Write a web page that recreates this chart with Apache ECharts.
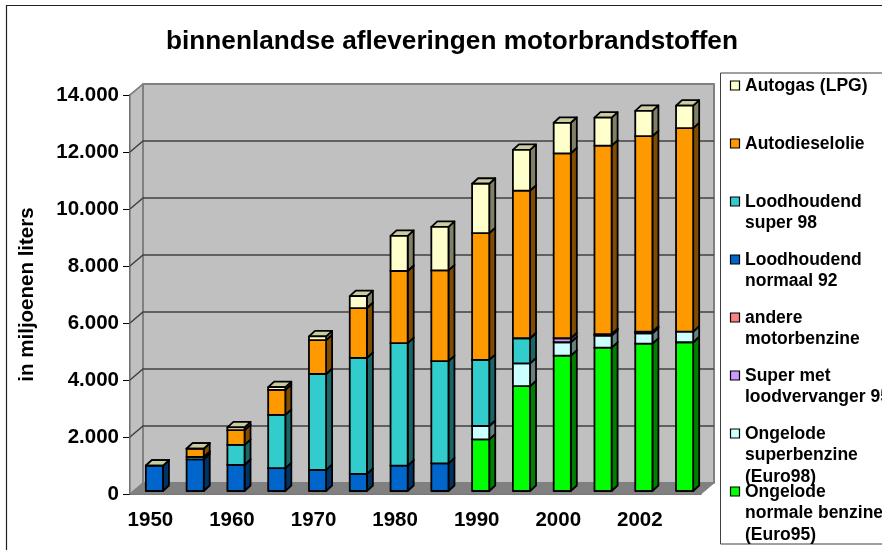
<!DOCTYPE html>
<html>
<head>
<meta charset="utf-8">
<script src="https://cdn.jsdelivr.net/npm/echarts@6/dist/echarts.min.js"></script>
<style>
  html, body { margin: 0; padding: 0; background: #fff; }
  #chart { width: 882px; height: 550px; }
</style>
</head>
<body>
<div id="chart"></div>
<script>
const years = ['1950','1955','1960','1965','1970','1975','1980','1985','1990','1995','2000','2001','2002','2003'];

// series values in miljoenen liters, bottom of the stack first
const euro95 = [0,0,0,0,0,0,0,0,1810,3680,4750,5030,5170,5220];
const euro98 = [0,0,0,0,0,0,0,0,470,800,470,420,365,370];
const superLood = [0,0,0,0,0,0,0,0,0,0,140,50,55,0];
const andere = [0,0,0,0,0,0,0,0,0,0,0,0,0,0];
const lood92 = [890,1110,920,800,740,600,890,970,0,0,0,0,0,0];
const lood98 = [0,90,700,1870,3365,4070,4300,3590,2320,880,0,0,0,0];
const diesel = [0,285,515,880,1190,1750,2530,3180,4450,5180,6490,6620,6860,7140];
const lpg = [0,0,95,95,130,420,1230,1530,1730,1430,1070,980,890,790];

const seriesNames = [
  'Ongelode\nnormale benzine\n(Euro95)',
  'Ongelode\nsuperbenzine\n(Euro98)',
  'Super met\nloodvervanger 95',
  'andere\nmotorbenzine',
  'Loodhoudend\nnormaal 92',
  'Loodhoudend\nsuper 98',
  'Autodieselolie',
  'Autogas (LPG)'
];
const seriesValues = [euro95, euro98, superLood, andere, lood92, lood98, diesel, lpg];
const colors = ['#00ff00','#ccffff','#cc99ff','#ff8080','#0066cc','#33cccc','#ff9900','#ffffcc'];
const sideColors = ['#008000','#668080','#664d80','#804040','#003366','#1a6666','#804d00','#808066'];
const topColors = ['#66ff66','#e0ffff','#e0c2ff','#ffb3b3','#669ee0','#85e0e0','#ffc266','#cccca3'];

const yTicks = [0,2000,4000,6000,8000,10000,12000,14000];

const wallDx = 13, wallDy = -11;   // depth of the 3d box
const barDx = 4, barDy = -3;       // bars stand halfway the floor
const depthX = 6, depthY = -5.5;   // depth of a bar

function poly(points, fill, stroke, lineWidth) {
  return { type: 'polygon', shape: { points: points }, style: { fill: fill, stroke: stroke, lineWidth: lineWidth, lineJoin: 'round' } };
}

// side wall, back wall, floor and gridlines
function renderWalls(params, api) {
  const left = api.coord([0, 0])[0] - api.size([1, 0])[0] / 2;
  const right = left + api.size([1, 0])[0] * years.length;
  const y0 = api.coord([0, 0])[1];
  const yMax = api.coord([0, 14000])[1];
  const kids = [
    poly([[left, y0], [left + wallDx, y0 + wallDy], [left + wallDx, yMax + wallDy], [left, yMax]], '#c0c0c0', '#808080', 1.5),
    poly([[left + wallDx, y0 + wallDy], [right + wallDx, y0 + wallDy], [right + wallDx, yMax + wallDy], [left + wallDx, yMax + wallDy]], '#c0c0c0', '#808080', 2),
    poly([[left, y0], [left + wallDx, y0 + wallDy], [right + wallDx, y0 + wallDy], [right, y0]], '#808080', '#808080', 1)
  ];
  yTicks.slice(1, -1).forEach(function (t) {
    const y = api.coord([0, t])[1];
    kids.push({ type: 'polyline', shape: { points: [[left, y], [left + wallDx, y + wallDy], [right + wallDx, y + wallDy]] }, style: { fill: null, stroke: '#404040', lineWidth: 1.5 } });
  });
  kids.push({ type: 'line', shape: { x1: left, y1: yMax, x2: left + wallDx, y2: yMax + wallDy }, style: { stroke: '#808080', lineWidth: 1.5 } });
  return { type: 'group', children: kids };
}

// one stacked segment: api.value(1) is the bottom, api.value(2) the top
function renderSegment(params, api) {
  const low = api.value(1), high = api.value(2);
  const idx = params.seriesIndex - 1;
  const isTop = idx === seriesValues.length - 1;
  // the top series still closes the bar with its cap when it is empty
  if (high <= low && !isTop) return null;
  const w = api.size([1, 0])[0] * 0.42;
  const c = api.coord([api.value(0), low]);
  const t = api.coord([api.value(0), high]);
  const x1 = c[0] - w / 2 + barDx, x2 = x1 + w;
  const yb = c[1] + barDy, yt = t[1] + barDy;
  return {
    type: 'group',
    children: [
      poly([[x2, yb], [x2 + depthX, yb + depthY], [x2 + depthX, yt + depthY], [x2, yt]], sideColors[idx], '#000', 1.8),
      poly([[x1, yt], [x1 + depthX, yt + depthY], [x2 + depthX, yt + depthY], [x2, yt]], topColors[idx], '#000', 1.8),
      poly([[x1, yb], [x2, yb], [x2, yt], [x1, yt]], colors[idx], '#000', 1.8)
    ]
  };
}

const running = years.map(function () { return 0; });
const barSeries = seriesValues.map(function (values, s) {
  const data = values.map(function (v, i) {
    const low = running[i];
    running[i] = low + v;
    return [i, low, running[i]];
  });
  return {
    type: 'custom',
    name: seriesNames[s].replace(/\n/g, ' '),
    renderItem: renderSegment,
    encode: { x: 0, y: [1, 2] },
    clip: false,
    z: 3,
    data: data
  };
});

// legend box, top entry is the last series; text runs off the box as in the original
const legendX = 720.5, legendTop = 73, legendBottom = 544, legendStep = 58;
const legendFont = 'bold 17.5px "Liberation Sans", Arial, sans-serif';
const legendGraphics = [{
  type: 'rect',
  shape: { x: 6.5, y: 5.5, width: 900, height: 600 },
  style: { fill: null, stroke: '#202020', lineWidth: 1.2 },
  z: 0
}, {
  type: 'rect',
  shape: { x: legendX, y: legendTop, width: 170, height: legendBottom - legendTop },
  style: { fill: '#fff', stroke: '#404040', lineWidth: 1 },
  z: 1
}];
seriesNames.slice().reverse().forEach(function (name, i) {
  const s = seriesNames.length - 1 - i;
  const y = 78 + i * legendStep;
  legendGraphics.push({
    type: 'rect',
    shape: { x: 730.5, y: y + 3, width: 9, height: 9 },
    style: { fill: colors[s], stroke: '#000', lineWidth: 1.2 },
    z: 2
  });
  legendGraphics.push({
    type: 'text',
    x: 745, y: y - 3,
    style: { text: name, font: legendFont, fill: '#000', lineHeight: 21.5 },
    z: 2
  });
});

const chart = echarts.init(document.getElementById('chart'), null, { renderer: 'canvas' });
chart.setOption({
  animation: false,
  backgroundColor: '#fff',
  textStyle: { fontFamily: '"Liberation Sans", Arial, sans-serif' },
  title: {
    text: 'binnenlandse afleveringen motorbrandstoffen',
    left: 447,
    top: 24,
    textAlign: 'center',
    textStyle: { fontSize: 26.2, fontWeight: 'bold', color: '#000' }
  },
  grid: { left: 130, right: 181, top: 95, bottom: 56 },
  xAxis: {
    type: 'category',
    data: years,
    axisLine: { lineStyle: { color: '#404040', width: 1.5 } },
    axisTick: { length: 6, interval: 0, alignWithLabel: false, lineStyle: { color: '#404040', width: 1 } },
    axisLabel: { interval: 1, margin: 16, fontSize: 20.5, fontWeight: 'bold', color: '#000' }
  },
  yAxis: {
    type: 'value',
    min: 0,
    max: 14000,
    interval: 2000,
    name: 'in miljoenen liters',
    nameLocation: 'middle',
    nameGap: 92,
    nameTextStyle: { fontSize: 20.5, fontWeight: 'bold', color: '#000' },
    axisLine: { show: true, lineStyle: { color: '#404040', width: 2 } },
    axisTick: { show: true, length: 7, lineStyle: { color: '#000', width: 1 } },
    splitLine: { show: false },
    axisLabel: {
      margin: 11,
      fontSize: 20.5,
      fontWeight: 'bold',
      color: '#000',
      formatter: function (v) { return v === 0 ? '0' : String(v / 1000) + '.000'; }
    }
  },
  graphic: legendGraphics,
  series: [{
    type: 'custom',
    renderItem: renderWalls,
    encode: { x: 0, y: 1 },
    clip: false,
    silent: true,
    z: 1,
    data: [[0, 0]]
  }].concat(barSeries)
});
</script>
</body>
</html>
